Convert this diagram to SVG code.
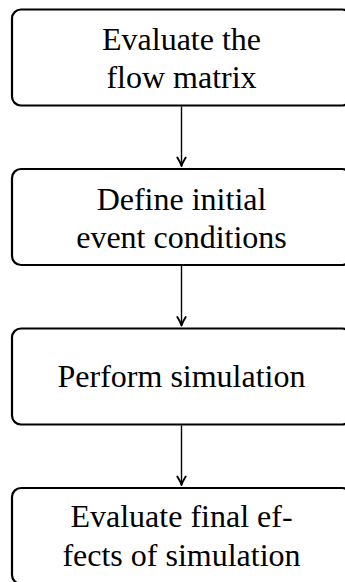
<svg xmlns="http://www.w3.org/2000/svg" width="345" height="582" viewBox="0 0 345 582">
<style>
.box{fill:#fff;stroke:#000;stroke-width:2.2}
.lbl{font-family:"Liberation Serif","Times New Roman",serif;font-size:32px;fill:#000;text-anchor:middle}
.conn{stroke:#000;stroke-width:1.4;fill:none}
.head{stroke:#000;stroke-width:1.9;fill:none;stroke-linecap:round;stroke-linejoin:round}
</style>
<defs>
<marker id="arr" markerUnits="userSpaceOnUse" markerWidth="14" markerHeight="14" viewBox="-11 -7 14 14" refX="0" refY="0" orient="auto">
<path class="head" d="M-8.5,-4.2 Q-3.5,-1 0,0 Q-3.5,1 -8.5,4.2"/>
</marker>
</defs>
<rect width="345" height="582" fill="#fff"/>
<g id="n1">
<rect class="box" x="12" y="9.5" width="339" height="96" rx="9"/>
<text class="lbl" x="181.5" y="49.5">Evaluate the</text>
<text class="lbl" x="181.5" y="87.5">flow matrix</text>
</g>
<g id="n2">
<rect class="box" x="12" y="169" width="339" height="96" rx="9"/>
<text class="lbl" x="181.5" y="209.5">Define initial</text>
<text class="lbl" x="181.5" y="247.5">event conditions</text>
</g>
<g id="n3">
<rect class="box" x="12" y="328.5" width="339" height="96" rx="9"/>
<text class="lbl" x="181.5" y="387">Perform simulation</text>
</g>
<g id="n4">
<rect class="box" x="12" y="488" width="339" height="96" rx="9"/>
<text class="lbl" x="181.5" y="527">Evaluate final ef-</text>
<text class="lbl" x="181.5" y="565.5">fects of simulation</text>
</g>
<g id="connectors">
<line class="conn" x1="181.5" y1="106.5" x2="181.5" y2="166" marker-end="url(#arr)"/>
<line class="conn" x1="181.5" y1="266" x2="181.5" y2="325.5" marker-end="url(#arr)"/>
<line class="conn" x1="181.5" y1="425.5" x2="181.5" y2="485" marker-end="url(#arr)"/>
</g>
</svg>
